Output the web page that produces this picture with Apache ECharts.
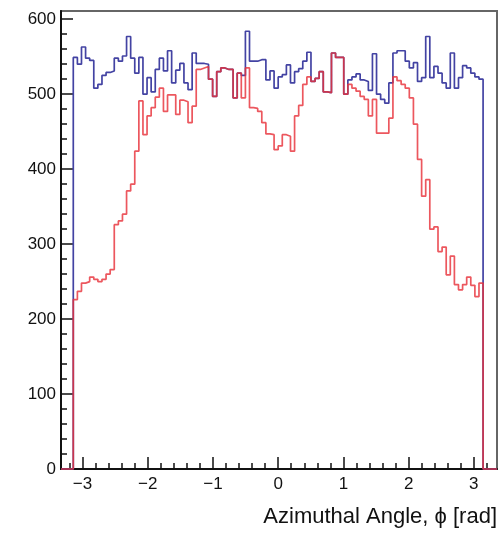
<!DOCTYPE html>
<html><head><meta charset="utf-8">
<script src="https://cdn.jsdelivr.net/npm/echarts@6/dist/echarts.min.js"></script>
<style>html,body{margin:0;padding:0;background:#fff}#c{width:500px;height:533px}</style>
</head><body><div id="c"></div>
<script>
// Histogram binning: 100 bins from -pi to pi
const nBins = 100;
const xLow = -Math.PI, xHigh = Math.PI;

// Blue histogram bin contents
const blueCounts = [
549,540,563,548,545,508,513,525,529,531,
548,544,551,577,548,528,549,500,522,503,
533,548,531,558,515,532,541,515,506,555,
541,541,540,520,497,530,535,533,533,495,
528,525,584,544,544,546,546,519,531,508,
523,526,539,515,530,534,544,556,517,521,
530,503,502,555,549,549,500,519,523,527,
519,517,505,554,500,493,488,515,555,558,
558,544,535,542,517,522,577,522,537,528,
515,508,555,508,522,538,535,528,523,520
];
// Red histogram bin contents
const redCounts = [
226,237,248,250,256,253,250,253,260,266,
326,331,340,371,380,424,491,446,471,482,
496,508,477,499,499,473,492,490,462,484,
533,535,537,520,497,530,535,533,533,495,
528,495,535,482,481,477,462,447,446,426,
431,446,444,424,471,485,513,523,517,521,
530,503,502,555,549,549,500,513,508,504,
497,493,471,493,448,448,448,468,523,518,
513,508,495,460,413,364,386,320,323,290,
296,259,284,246,239,246,256,245,230,248
];
const xTickValues = [-3,-2,-1,0,1,2,3];
const yTickValues = [0,100,200,300,400,500,600];
const xTitle = 'Azimuthal Angle, \u03D5 [rad]';

const X_MIN = -3.33, X_MAX = 3.355, Y_MIN = 0, Y_MAX = 611;
function histPath(counts){
  const w = (xHigh - xLow) / nBins;
  const pts = [[X_MIN, 0]];
  counts.forEach((v, i) => pts.push([xLow + i * w, v]));
  pts.push([xHigh, 0]);
  pts.push([X_MAX, 0]);
  return pts;
}
const xMinor = []; for (let k = -16; k <= 16; k++) if (k % 5 !== 0) xMinor.push(k / 5);
const yMinor = []; for (let k = 0; k <= 30; k++) if (k % 5 !== 0) yMinor.push(k * 20);

const FONT = '"Liberation Sans", Arial, Helvetica, sans-serif';
const AX = '#111';
const chart = echarts.init(document.getElementById('c'), null, {renderer: 'canvas'});
chart.setOption({
  animation: false,
  backgroundColor: '#fff',
  title: {text: xTitle, right: 3, top: 506, padding: 0, textStyle: {fontSize: 22, fontWeight: 'normal', color: '#111', fontFamily: FONT}},
  grid: {left: 61, right: 3, top: 11, bottom: 64, show: true, borderColor: '#666', borderWidth: 2, backgroundColor: 'transparent'},
  xAxis: [
    {type: 'value', min: X_MIN, max: X_MAX, position: 'bottom',
     axisLine: {show: true, onZero: false, lineStyle: {color: AX, width: 2}},
     axisTick: {show: true, inside: true, length: 12, customValues: xTickValues, lineStyle: {color: AX, width: 1.5}},
     axisLabel: {customValues: xTickValues, formatter: v => (v < 0 ? '\u2212' : '') + Math.abs(v), fontSize: 17, color: AX, margin: 7, fontFamily: FONT},
     splitLine: {show: false}},
    {type: 'value', min: X_MIN, max: X_MAX, position: 'bottom',
     axisLine: {show: false, onZero: false},
     axisTick: {show: true, inside: true, length: 6, customValues: xMinor, lineStyle: {color: AX, width: 1.5}},
     axisLabel: {show: false}, splitLine: {show: false}}
  ],
  yAxis: [
    {type: 'value', min: Y_MIN, max: Y_MAX, position: 'left',
     axisLine: {show: true, onZero: false, lineStyle: {color: AX, width: 2}},
     axisTick: {show: true, inside: true, length: 12, customValues: yTickValues, lineStyle: {color: AX, width: 1.5}},
     axisLabel: {customValues: yTickValues, fontSize: 17, color: AX, margin: 5, fontFamily: FONT},
     splitLine: {show: false}},
    {type: 'value', min: Y_MIN, max: Y_MAX, position: 'left',
     axisLine: {show: false, onZero: false},
     axisTick: {show: true, inside: true, length: 6, customValues: yMinor, lineStyle: {color: AX, width: 1.5}},
     axisLabel: {show: false}, splitLine: {show: false}}
  ],
  series: [
    {type: 'line', name: 'blue', data: histPath(blueCounts), step: 'end', symbol: 'none', clip: false,
     lineStyle: {color: '#4343a3', width: 1.7}, xAxisIndex: 0, yAxisIndex: 0, z: 3},
    {type: 'line', name: 'red', data: histPath(redCounts), step: 'end', symbol: 'none', clip: false,
     lineStyle: {color: '#e8323a', width: 1.7, opacity: 0.82}, xAxisIndex: 0, yAxisIndex: 0, z: 4}
  ]
});
</script></body></html>
